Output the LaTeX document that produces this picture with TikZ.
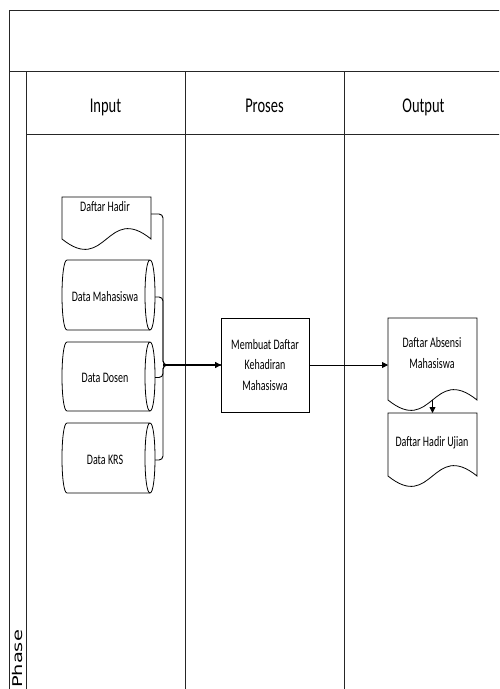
\documentclass[tikz,border=0pt]{standalone}
\usepackage{fontspec}
\setmainfont{Carlito}
\newfontfamily\narrowfont[FakeStretch=0.69]{Carlito}
\newfontfamily\phasefont{DejaVu Sans}
\usetikzlibrary{arrows.meta,calc}
\newcommand\drawdoc[1]{%
  \draw[shapeline] (#1.south west) -- (#1.north west) -- (#1.north east) -- (#1.south east)
    .. controls ($(#1.south)+(0,-36)$) and ($(#1.south)+(0,36)$) .. (#1.south west) -- cycle;}
\newcommand\drawcyl[1]{%
  \draw[shapeline] (#1.north west) -- (#1.north east)
    .. controls ($(#1.north east)+(6.67,0)$) and ($(#1.south east)+(6.67,0)$) .. (#1.south east)
    .. controls ($(#1.south east)+(-6.67,0)$) and ($(#1.north east)+(-6.67,0)$) .. (#1.north east);
  \draw[shapeline] (#1.south east) -- (#1.south west)
    .. controls ($(#1.south west)+(-6.67,0)$) and ($(#1.north west)+(-6.67,0)$) .. (#1.north west);}
\begin{document}
\begin{tikzpicture}[x=1pt,y=-1pt,
  frame/.style={line width=1pt,draw=black!85},
  shapeline/.style={line width=0.8pt},
  geom/.style={draw=none,inner sep=0pt,outer sep=0pt},
  lbl/.style={font=\narrowfont\fontsize{14.5}{20.5}\selectfont,align=center,inner sep=0pt},
  hdr/.style={font=\narrowfont\fontsize{21}{24}\selectfont,inner sep=0pt,anchor=base},
  conn/.style={line width=0.9pt,rounded corners=4pt},
  tip/.style={-{Triangle[length=6pt,width=6pt]}}
]
\useasboundingbox (0,0) rectangle (499,689);
\begin{scope}
  \clip (0,0) rectangle (499,689);
  \draw[frame] (9,700) -- (9,10) -- (510,10);
  \draw[frame] (9,71) -- (510,71);
  \draw[frame] (26,71) -- (26,700);
  \draw[frame] (26,134) -- (510,134);
  \draw[frame] (185,71) -- (185,700);
  \draw[frame] (344,71) -- (344,700);
\end{scope}
% headers
\node[hdr] (hin) at (105.5,112) {Input};
\node[hdr] (hpr) at (264.5,112) {Proses};
\node[hdr] (hout) at (423.5,112) {Output};
\node[rotate=90,inner sep=0pt] (phase) at (18,659)
  {\phasefont\fontsize{19.4}{20}\selectfont\scalebox{1}[0.69]{Phase}};
% input shapes
\node[geom,minimum width=89,minimum height=42] (dh) at (106.5,218) {};
\drawdoc{dh}
\node[lbl] (tdh) at (105,207) {Daftar Hadir};
\node[geom,minimum width=83,minimum height=70] (dm) at (108.5,295) {};
\drawcyl{dm}
\node[lbl] (tdm) at (105,297) {Data Mahasiswa};
\node[geom,minimum width=83,minimum height=69] (dd) at (108.5,376.5) {};
\drawcyl{dd}
\node[lbl] (tdd) at (105,378) {Data Dosen};
\node[geom,minimum width=83,minimum height=70] (dk) at (108.5,458) {};
\drawcyl{dk}
\node[lbl] (tdk) at (105,460) {Data KRS};
% process
\node[geom,draw,shapeline,minimum width=88,minimum height=94,lbl] (mb) at (265,365)
  {Membuat Daftar\\Kehadiran\\Mahasiswa};
% outputs
\node[geom,minimum width=89,minimum height=82] (da) at (432.5,359) {};
\drawdoc{da}
\node[lbl] (tda) at (432,353) {Daftar Absensi\\Mahasiswa};
\node[geom,minimum width=89,minimum height=63] (dhu) at (432.5,444.5) {};
\drawdoc{dhu}
\node[lbl] (tdhu) at (432,443) {Daftar Hadir Ujian};
% connectors
\coordinate (j) at (163,365);
\draw[conn] ($(dh.east)+(0,-4)$) -| (j) -- (mb.west);
\draw[conn] ($(dm.east)+(5,2)$) -| (j) -- (mb.west);
\draw[conn] ($(dd.east)+(5,1)$) -| (j) -- (mb.west);
\draw[conn] ($(dk.east)+(5,2)$) -| (j) -- (mb.west);
\draw[line width=1.4pt,tip] (j) -- (mb.west);
\draw[line width=0.8pt,tip] (mb.east) -- (mb.east -| da.west);
\draw[line width=0.8pt,tip] (da.south) -- (dhu.north);
\end{tikzpicture}
\end{document}
